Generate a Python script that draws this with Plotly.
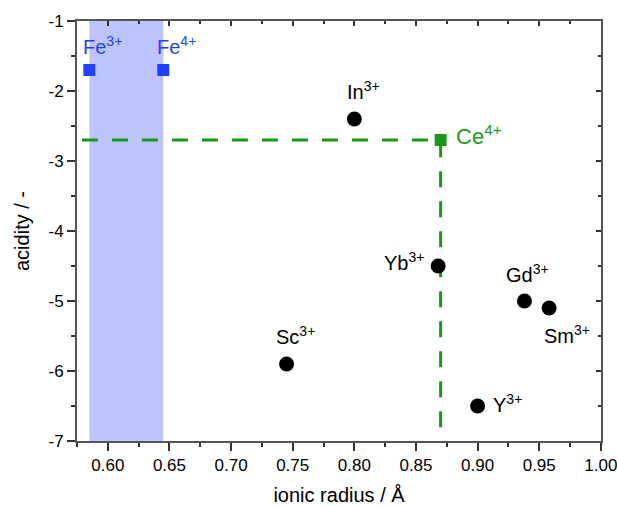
import plotly.graph_objects as go

# Ionic radii (Å) and acidity of the metal cations
ions = ["Sc<sup>3+</sup>", "In<sup>3+</sup>", "Yb<sup>3+</sup>", "Y<sup>3+</sup>",
        "Gd<sup>3+</sup>", "Sm<sup>3+</sup>"]
radius = [0.745, 0.800, 0.868, 0.900, 0.938, 0.958]
acidity = [-5.9, -2.4, -4.5, -6.5, -5.0, -5.1]

fe_ions = ["Fe<sup>3+</sup>", "Fe<sup>4+</sup>"]
fe_radius = [0.585, 0.645]
fe_acidity = [-1.7, -1.7]

ce_ion = "Ce<sup>4+</sup>"
ce_radius = [0.87]
ce_acidity = [-2.7]

x_ticks = [0.60, 0.65, 0.70, 0.75, 0.80, 0.85, 0.90, 0.95, 1.00]
x_ticklabels = ["0.60", "0.65", "0.70", "0.75", "0.80", "0.85", "0.90", "0.95", "1.00"]
y_ticks = [-7, -6, -5, -4, -3, -2, -1]
y_ticklabels = ["-7", "-6", "-5", "-4", "-3", "-2", "-1"]

x_range = [0.575, 1.0001]
y_range = [-7.0001, -0.9999]

BLUE = "#2240ff"
GREEN = "#189a18"
FONT = "Liberation Sans, Arial, sans-serif"
AXIS_GREY = "#555555"
TICK_GREY = "#333333"

fig = go.Figure()

# Shaded band spanning the iron radii
fig.add_shape(type="rect", xref="x", yref="y",
              x0=fe_radius[0], x1=fe_radius[1], y0=y_range[0], y1=y_range[1],
              fillcolor="#bcc4fb", line_width=0, layer="below")

# Dashed guide lines through the Ce4+ point
fig.add_trace(go.Scatter(
    x=[x_range[0] + 0.004, ce_radius[0], ce_radius[0]],
    y=[ce_acidity[0], ce_acidity[0], y_ticks[0]],
    mode="lines", line=dict(color=GREEN, width=3, dash="16px,14px"),
    hoverinfo="skip", showlegend=False))

fig.add_trace(go.Scatter(x=radius, y=acidity, mode="markers",
                         marker=dict(color="black", size=15, symbol="circle"),
                         showlegend=False))
fig.add_trace(go.Scatter(x=fe_radius, y=fe_acidity, mode="markers",
                         marker=dict(color=BLUE, size=12, symbol="square"),
                         showlegend=False))
fig.add_trace(go.Scatter(x=ce_radius, y=ce_acidity, mode="markers",
                         marker=dict(color=GREEN, size=12, symbol="square"),
                         showlegend=False))

# Point labels: (dx, dy, xanchor) offsets in pixels
offsets = {
    "Sc<sup>3+</sup>": (-13, 29, "left"),
    "In<sup>3+</sup>": (-9, 29, "left"),
    "Yb<sup>3+</sup>": (-12, 5, "right"),
    "Y<sup>3+</sup>": (13, 2, "left"),
    "Gd<sup>3+</sup>": (-20, 28, "left"),
    "Sm<sup>3+</sup>": (-7, -26, "left"),
}
for name, xv, yv in zip(ions, radius, acidity):
    dx, dy, xa = offsets[name]
    fig.add_annotation(x=xv, y=yv, text=name, showarrow=False,
                       xshift=dx, yshift=dy, xanchor=xa,
                       font=dict(family=FONT, size=20, color="black"))

for name, xv, yv in zip(fe_ions, fe_radius, fe_acidity):
    fig.add_annotation(x=xv, y=yv, text=name, showarrow=False,
                       xshift=-8, yshift=25, xanchor="left",
                       font=dict(family=FONT, size=20, color=BLUE))

fig.add_annotation(x=ce_radius[0], y=ce_acidity[0], text=ce_ion, showarrow=False,
                   xshift=13, yshift=5, xanchor="left",
                   font=dict(family=FONT, size=22, color=GREEN))

axis_common = dict(showgrid=False, zeroline=False, showline=True,
                   linecolor=AXIS_GREY, linewidth=2, automargin=False,
                   tickcolor=TICK_GREY, tickwidth=1.5,
                   tickfont=dict(family=FONT, size=17, color="black"))

fig.update_layout(
    width=617, height=506,
    margin=dict(l=77, r=16, t=21, b=65),
    paper_bgcolor="white", plot_bgcolor="white",
    font=dict(family=FONT, color="black"),
    xaxis=dict(range=x_range, tickmode="array", tickvals=x_ticks,
               ticktext=x_ticklabels, ticks="outside", ticklen=8,
               ticklabeloverflow="allow",
               minor=dict(dtick=0.025, tick0=0.575, ticks="outside", ticklen=4,
                          tickcolor=TICK_GREY, tickwidth=1.5),
               title=dict(text="ionic radius / Å", font=dict(family=FONT, size=20),
                          standoff=15),
               **axis_common),
    yaxis=dict(range=y_range, tickmode="array", tickvals=y_ticks,
               ticktext=y_ticklabels, ticks="outside", ticklen=8,
               ticklabeloverflow="allow",
               minor=dict(dtick=0.5, ticks="outside", ticklen=4,
                          tickcolor=TICK_GREY, tickwidth=1.5),
               title=dict(text="acidity / -", font=dict(family=FONT, size=20),
                          standoff=13),
               **axis_common),
    xaxis2=dict(range=x_range, overlaying="x", side="top", tickmode="array",
                tickvals=x_ticks, ticks="inside", ticklen=5, showticklabels=False,
                minor=dict(dtick=0.025, tick0=0.575, ticks="inside", ticklen=3,
                           tickcolor=TICK_GREY, tickwidth=1.5),
                **axis_common),
    yaxis2=dict(range=y_range, overlaying="y", side="right", tickmode="array",
                tickvals=y_ticks, ticks="inside", ticklen=5, showticklabels=False,
                minor=dict(dtick=0.5, ticks="inside", ticklen=3,
                           tickcolor=TICK_GREY, tickwidth=1.5),
                **axis_common),
)

# Empty trace bound to the mirrored top/right axes
fig.add_trace(go.Scatter(x=[], y=[], xaxis="x2", yaxis="y2", showlegend=False))

fig.write_html("out.html")
